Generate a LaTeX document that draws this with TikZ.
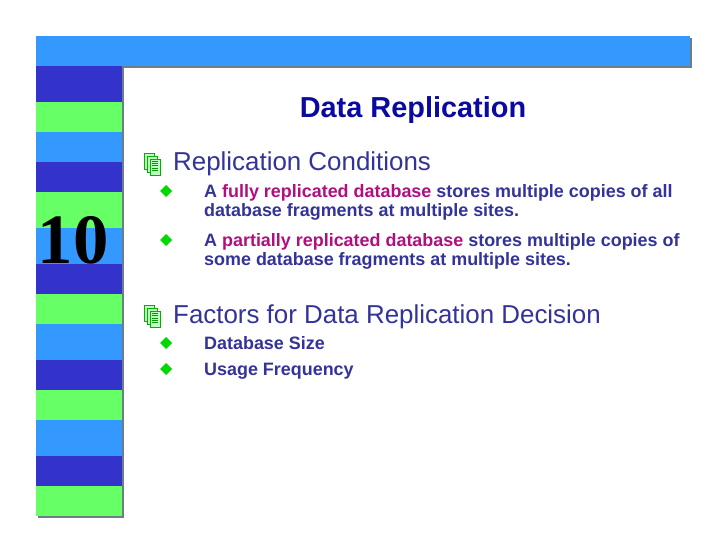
\documentclass[tikz,border=0pt]{standalone}
\usepackage{fontspec}
\setmainfont{Liberation Sans}
\definecolor{lb}{HTML}{3399FF}
\definecolor{db}{HTML}{3333CC}
\definecolor{gr}{HTML}{66FF66}
\definecolor{tx}{HTML}{333399}
\definecolor{tt}{HTML}{0A0AA0}
\definecolor{mg}{HTML}{B0107F}
\definecolor{sh}{HTML}{6E7E84}
\begin{document}
\begin{tikzpicture}[x=1bp,y=-1bp,
  lvl2/.style={anchor=base west,text=tx,font=\bfseries\fontsize{18}{20}\selectfont,inner sep=0pt,align=left},
  lvl1/.style={anchor=base west,text=tx,font=\fontsize{26}{30}\selectfont,inner sep=0pt}]
\useasboundingbox (0,0) rectangle (720,540);
\fill[white] (0,0) rectangle (720,540);
% shadows
\fill[sh] (38,38) rectangle (692,68);
\fill[sh] (38,66) rectangle (124,518);
\fill[lb] (36,36) rectangle (690,66);
\foreach \a/\b/\c in {66/102/db,102/132/gr,132/162/lb,162/192/db,192/228/gr,228/264/lb,264/294/db,294/324/gr,324/360/lb,360/390/db,390/420/gr,420/456/lb,456/486/db,486/516/gr}
  \fill[\c] (36,\a) rectangle (122,\b);
\node[font=\fontspec{Liberation Serif}\bfseries\fontsize{71}{71}\selectfont,inner sep=0pt,anchor=base] (num) at (73,264) {10};
\node[text=tt,font=\bfseries\fontsize{29}{32}\selectfont,inner sep=0pt,anchor=base] (title) at (413,118) {Data Replication};
% icons
\foreach \y in {164,316}{
  \begin{scope}[shift={(153,\y)}]
    \foreach \d in {0,3,6}
      \draw[green!70!black,fill=green!25,line width=0.7] (-9+\d,-11+\d) rectangle (1+\d,5+\d);
    \foreach \k in {0,1,2,3,4} \draw[green!60!black,line width=0.6] (-1,-3+\k*2.4) -- (5,-3+\k*2.4);
  \end{scope}}
\node[lvl1] (h1) at (173,171) {Replication Conditions};
\node[lvl1] (h2) at (173,323) {Factors for Data Replication Decision};
\foreach \y in {191,240,343,369}
  \fill[green!85!black] (166,\y-6) -- (172,\y) -- (166,\y+6) -- (160,\y) -- cycle;
\node[lvl2] (b1) at (204,217) {A \textcolor{mg}{fully replicated database} stores multiple copies of all\\database fragments at multiple sites.};
\node[lvl2] (b2) at (204,266) {A \textcolor{mg}{partially replicated database} stores multiple copies of\\some database fragments at multiple sites.};
\node[lvl2] (b3) at (204,349) {Database Size};
\node[lvl2] (b4) at (204,375) {Usage Frequency};
\end{tikzpicture}
\end{document}
